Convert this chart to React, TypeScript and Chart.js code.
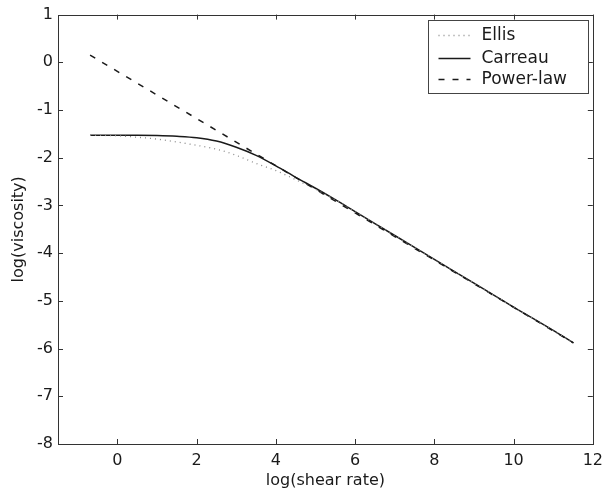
import React, { useEffect, useRef } from 'react';
import { Chart, registerables } from 'chart.js';

Chart.register(...registerables);

// log(shear rate) sample positions
const shearX = [-0.69, 0, 0.5, 1, 1.5, 2, 2.5, 3, 3.5, 4, 4.5, 5, 5.5, 6, 7, 8, 9, 10, 11, 11.51];
const ellisY = [-1.53, -1.54, -1.57, -1.61, -1.67, -1.74, -1.82, -1.95, -2.12, -2.27, -2.46, -2.66, -2.88, -3.13, -3.63, -4.13, -4.63, -5.13, -5.62, -5.88];
const carreauY = [-1.53, -1.53, -1.53, -1.535, -1.55, -1.58, -1.65, -1.78, -1.95, -2.17, -2.41, -2.64, -2.88, -3.13, -3.63, -4.13, -4.63, -5.13, -5.62, -5.88];
const powerX = [-0.69, 11.51];
const powerY = [0.15, -5.88];

const xTicks = [0, 2, 4, 6, 8, 10, 12];
const yTicks = [-8, -7, -6, -5, -4, -3, -2, -1, 0, 1];

const seriesNames = ['Ellis', 'Carreau', 'Power-law'];

const FONT = 'DejaVu Sans';

const boxPlugin = {
  id: 'matlabBox',
  afterDraw(chart: any) {
    const { ctx, chartArea } = chart;
    const { left, right, top, bottom } = chartArea;
    const xs = chart.scales.x;
    const ys = chart.scales.y;
    ctx.save();
    ctx.strokeStyle = '#333';
    ctx.lineWidth = 1;
    ctx.strokeRect(Math.round(left) + 0.5, Math.round(top) + 0.5, Math.round(right - left), Math.round(bottom - top));
    ctx.beginPath();
    const tl = 5;
    xTicks.forEach((v) => {
      const px = Math.round(xs.getPixelForValue(v)) + 0.5;
      ctx.moveTo(px, bottom);
      ctx.lineTo(px, bottom - tl);
      ctx.moveTo(px, top);
      ctx.lineTo(px, top + tl);
    });
    yTicks.forEach((v) => {
      const py = Math.round(ys.getPixelForValue(v)) + 0.5;
      ctx.moveTo(left, py);
      ctx.lineTo(left + tl, py);
      ctx.moveTo(right, py);
      ctx.lineTo(right - tl, py);
    });
    ctx.stroke();

    // legend box in the upper right corner
    const bw = 160;
    const bh = 73;
    const bx = Math.round(right - 5 - bw) + 0.5;
    const by = Math.round(top + 5) + 0.5;
    ctx.fillStyle = '#fff';
    ctx.fillRect(bx, by, bw, bh);
    ctx.strokeStyle = '#444';
    ctx.strokeRect(bx, by, bw, bh);
    const rowY = [15, 38, 59];
    chart.data.datasets.forEach((ds: any, i: number) => {
      const yy = by + rowY[i];
      ctx.save();
      ctx.strokeStyle = ds.borderColor;
      ctx.lineWidth = ds.borderWidth;
      ctx.setLineDash(ds.borderDash || []);
      ctx.beginPath();
      ctx.moveTo(bx + 10, yy);
      ctx.lineTo(bx + 42, yy);
      ctx.stroke();
      ctx.restore();
      ctx.fillStyle = '#1a1a1a';
      ctx.font = `17px "${FONT}"`;
      ctx.textBaseline = 'middle';
      ctx.textAlign = 'left';
      ctx.fillText(ds.label, bx + 53, yy);
    });
    ctx.restore();
  },
};

export default function App() {
  const ref = useRef<HTMLCanvasElement | null>(null);
  useEffect(() => {
    if (!ref.current) return;
    const chart = new Chart(ref.current, {
      type: 'line',
      data: {
        datasets: [
          {
            label: seriesNames[0],
            data: shearX.map((x, i) => ({ x, y: ellisY[i] })),
            borderColor: '#8a8a8a',
            borderWidth: 1.3,
            borderDash: [1, 4],
            pointRadius: 0,
            cubicInterpolationMode: 'monotone',
            fill: false,
          },
          {
            label: seriesNames[1],
            data: shearX.map((x, i) => ({ x, y: carreauY[i] })),
            borderColor: '#1a1a1a',
            borderWidth: 1.5,
            borderDash: [],
            pointRadius: 0,
            cubicInterpolationMode: 'monotone',
            fill: false,
          },
          {
            label: seriesNames[2],
            data: powerX.map((x, i) => ({ x, y: powerY[i] })),
            borderColor: '#1a1a1a',
            borderWidth: 1.5,
            borderDash: [6, 8],
            pointRadius: 0,
            fill: false,
          },
        ],
      },
      options: {
        animation: false,
        responsive: false,
        layout: { padding: { top: 14, right: 10, left: 0, bottom: 0 } },
        plugins: { legend: { display: false }, tooltip: { enabled: false } },
        scales: {
          x: {
            type: 'linear',
            min: -1.5,
            max: 12,
            afterBuildTicks: (scale: any) => {
              scale.ticks = xTicks.map((v) => ({ value: v }));
            },
            afterFit: (scale: any) => {
              scale.height = 47;
            },
            grid: { display: false, drawTicks: false },
            border: { display: false },
            ticks: {
              padding: 7,
              color: '#1a1a1a',
              font: { family: FONT, size: 16 },
              maxRotation: 0,
            },
            title: {
              display: true,
              text: 'log(shear rate)',
              color: '#1a1a1a',
              font: { family: FONT, size: 16 },
              padding: { top: 0, bottom: 1 },
            },
          },
          y: {
            type: 'linear',
            min: -8,
            max: 1,
            afterBuildTicks: (scale: any) => {
              scale.ticks = yTicks.map((v) => ({ value: v }));
            },
            afterFit: (scale: any) => {
              scale.width = 58;
            },
            grid: { display: false, drawTicks: false },
            border: { display: false },
            ticks: {
              padding: 5,
              color: '#1a1a1a',
              font: { family: FONT, size: 16 },
            },
            title: {
              display: true,
              text: 'log(viscosity)',
              color: '#1a1a1a',
              font: { family: FONT, size: 16 },
              padding: { top: 9, bottom: 0 },
            },
          },
        },
      },
      plugins: [boxPlugin],
    } as any);
    return () => chart.destroy();
  }, []);
  return (
    <div style={{ position: 'absolute', left: 0, top: 0, width: 610, height: 491, background: '#fff' }}>
      <canvas ref={ref} width={610} height={491} />
    </div>
  );
}
